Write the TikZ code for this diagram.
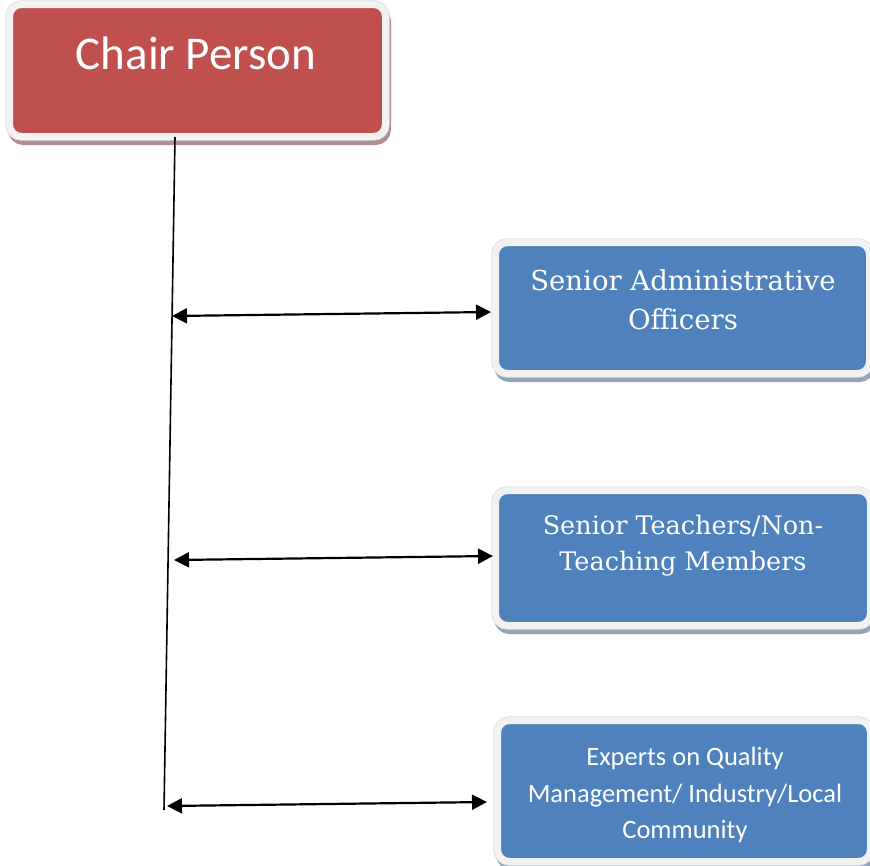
\documentclass[tikz,border=0pt]{standalone}
\usepackage{fontspec}
\setmainfont{DejaVu Serif}
\newfontfamily\calfont{Carlito}
\usetikzlibrary{arrows.meta}
\definecolor{chairred}{HTML}{C0504D}
\definecolor{boxblue}{HTML}{4F81BD}
\definecolor{framegray}{HTML}{F2F2F2}
\definecolor{frameedge}{HTML}{DCDCDC}
\definecolor{redshadow}{HTML}{B08E8E}
\definecolor{blueshadow}{HTML}{96A4B7}
\begin{document}
\begin{tikzpicture}[x=1pt,y=-1pt,
  cardbox/.style={rectangle, rounded corners=12pt, draw=framegray, line width=7pt, inner sep=0pt,
    preaction={draw=#1, fill=#1, line width=7pt, transform canvas={xshift=2pt,yshift=-5pt}},
    preaction={draw=frameedge, line width=8.4pt}},
  redcard/.style={cardbox=redshadow, fill=chairred},
  bluecard/.style={cardbox=blueshadow, fill=boxblue},
  chairtext/.style={anchor=base, text=white, inner sep=0pt, font=\calfont\fontsize{47}{56}\selectfont},
  serifA/.style={anchor=base, text=white, inner sep=0pt, font=\fontsize{27.5}{33}\selectfont},
  serifB/.style={anchor=base, text=white, inner sep=0pt, font=\fontsize{25.5}{31}\selectfont},
  sansC/.style={anchor=base, text=white, inner sep=0pt, font=\calfont\fontsize{26.5}{32}\selectfont},
  spine/.style={draw=black, line width=1.6pt},
  link/.style={draw=black, line width=2.2pt, {Triangle[length=15pt,width=15pt]}-{Triangle[length=15pt,width=15pt]}}]
\useasboundingbox (0,0) rectangle (870,865);
\fill[white] (0,0) rectangle (870,865);

% boxes
\node[redcard, minimum width=376pt, minimum height=132pt] (chair) at (197.5,70.5) {};
\node[bluecard, minimum width=374pt, minimum height=131pt] (s1) at (682.5,308) {};
\node[bluecard, minimum width=375pt, minimum height=135pt] (s2) at (683,558) {};
\node[bluecard, minimum width=373pt, minimum height=141pt] (s3) at (684,791) {};

% texts
\node[chairtext] (chairlbl) at (196,69) {Chair Person};
\node[serifA] (t1a) at (683,290) {Senior Administrative};
\node[serifA] (t1b) at (683,329) {Officers};
\node[serifB] (t2a) at (683,534) {Senior Teachers/Non-};
\node[serifB] (t2b) at (683,570) {Teaching Members};
\node[sansC] (t3a) at (685,765) {Experts on Quality};
\node[sansC] (t3b) at (685,802) {Management/ Industry/Local};
\node[sansC] (t3c) at (685,838) {Community};

% connectors
\coordinate (vtop) at (175,137);
\coordinate (vbot) at (164,810);
\coordinate (a1) at (172,316);
\coordinate (a2) at (174,560);
\coordinate (a3) at (167,806);
\coordinate (b1) at (491,312);
\coordinate (b2) at (493,556);
\coordinate (b3) at (487,802);
\draw[spine] (vtop) -- (vbot);
\draw[link] (a1) -- (b1);
\draw[link] (a2) -- (b2);
\draw[link] (a3) -- (b3);
\end{tikzpicture}
\end{document}
